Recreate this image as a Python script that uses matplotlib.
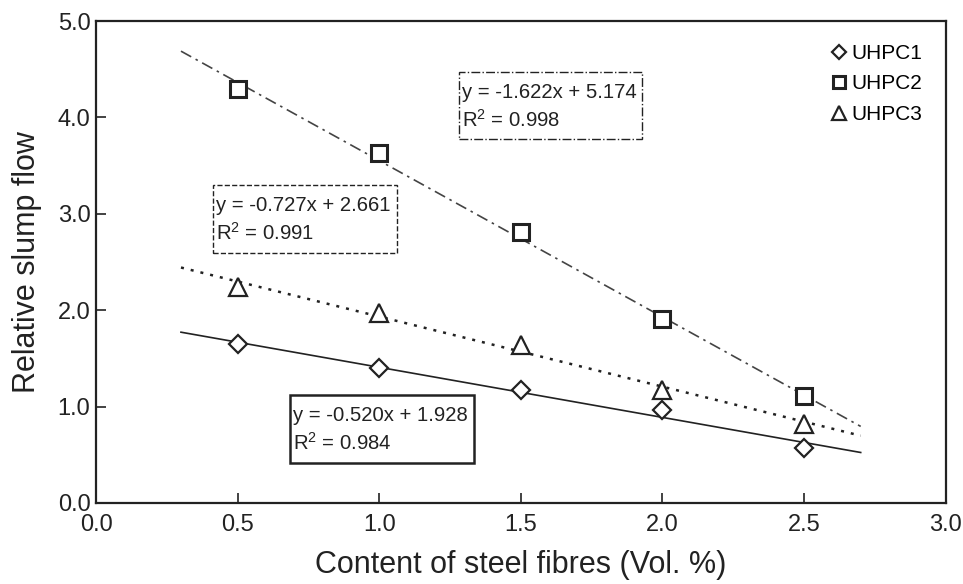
import matplotlib
matplotlib.use("Agg")
import matplotlib.pyplot as plt
from matplotlib.patches import Rectangle
import numpy as np

plt.rcParams["font.family"] = ["Liberation Sans", "DejaVu Sans"]

# steel fibre content (Vol. %) and relative slump flow per mix
fibre = [0.5, 1.0, 1.5, 2.0, 2.5]
uhpc1 = [1.65, 1.40, 1.17, 0.96, 0.57]
uhpc2 = [4.30, 3.63, 2.81, 1.91, 1.11]
uhpc3 = [2.24, 1.97, 1.64, 1.17, 0.82]

# linear fits: (slope, intercept, R^2)
fit1 = (-0.520, 1.928, 0.984)
fit2 = (-1.622, 5.174, 0.998)
fit3 = (-0.727, 2.661, 0.991)
fit_range = (0.3, 2.7)

fig = plt.figure(figsize=(9.63, 5.84), dpi=100)
ax = fig.add_axes([0.0997, 0.1387, 0.8823, 0.8253])

xs = np.array(fit_range)
ink = "#222222"
ax.plot(xs, fit1[0] * xs + fit1[1], color=ink, lw=1.2, ls="-")
ax.plot(xs, fit2[0] * xs + fit2[1], color="#444444", lw=1.2,
        ls=(0, (7, 3, 1.5, 3)))
ax.plot(xs, fit3[0] * xs + fit3[1], color=ink, lw=1.8, ls=(0, (1.2, 2.8)))

mk = dict(ls="none", mfc="white", color=ink, mew=1.6)
ax.plot(fibre, uhpc1, marker="D", ms=9.5, label="UHPC1", **mk)
ax.plot(fibre, uhpc2, marker="s", ms=12, mew=2.2, ls="none", mfc="white",
        color=ink, label="UHPC2")
ax.plot(fibre, uhpc3, marker="^", ms=13, label="UHPC3", **mk)


def fit_box(box, fit, style, lw):
    # box = (x0, y0, x1, y1) in data units; text sits at the left edge
    x0, y0, x1, y1 = box
    ax.add_patch(Rectangle((x0, y0), x1 - x0, y1 - y0, fc="white", ec=ink,
                           ls=style, lw=lw, zorder=3))
    slope, icpt, r2 = fit
    h = y1 - y0
    tx = x0 + 0.010
    ax.text(tx, y1 - 0.30 * h, f"y = {slope:.3f}x + {icpt:.3f}",
            fontsize=14.6, va="center", ha="left", color=ink, zorder=4)
    ax.text(tx, y1 - 0.71 * h, f"$\\mathregular{{R^2}}$ = {r2:.3f}",
            fontsize=14.6, va="center", ha="left", color=ink, zorder=4)


fit_box((1.281, 3.776, 1.927, 4.470), fit2, "-.", 1.0)
fit_box((0.413, 2.596, 1.062, 3.299), fit3, "--", 1.0)
fit_box((0.685, 0.415, 1.334, 1.120), fit1, "-", 1.8)

ax.set_xlim(0, 3.0)
ax.set_ylim(0, 5.0)
ax.set_xticks(np.arange(0, 3.01, 0.5))
ax.set_yticks(np.arange(0, 5.01, 1.0))
ax.set_xticklabels([f"{v:.1f}" for v in np.arange(0, 3.01, 0.5)])
ax.set_yticklabels([f"{v:.1f}" for v in np.arange(0, 5.01, 1.0)])
ax.tick_params(direction="in", length=7, width=1.2, labelsize=17,
               colors=ink, pad=4)
ax.tick_params(axis="x", pad=8)
for s in ax.spines.values():
    s.set_linewidth(1.6)
    s.set_color(ink)

ax.set_xlabel("Content of steel fibres (Vol. %)", fontsize=22, color=ink,
              labelpad=10)
ax.set_ylabel("Relative slump flow", fontsize=22, color=ink, labelpad=11)

leg = ax.legend(loc="upper right", frameon=False, fontsize=15,
                handletextpad=0.1, handlelength=1.0, borderaxespad=0.7,
                labelspacing=0.55, numpoints=1, markerscale=0.75)

fig.savefig("out.png", dpi=100)
